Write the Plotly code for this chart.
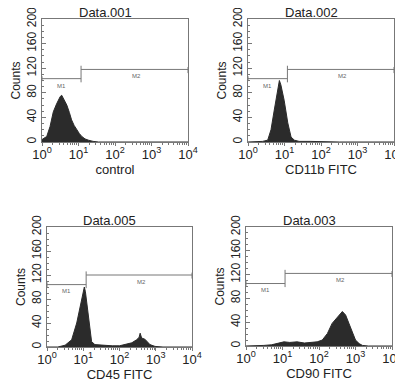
import plotly.graph_objects as go

# page body has an 8px default margin, so the figure is drawn 8px in from the window edge
OFF = 8
W, H = 403 - OFF, 383 - OFF

titles = ["Data.001", "Data.002", "Data.005", "Data.003"]
xlabels = ["control", "CD11b FITC", "CD45 FITC", "CD90 FITC"]

# histogram data: position in decades (log10 of intensity) and counts
p1_dec = [0.0, 0.05, 0.13, 0.22, 0.31, 0.40, 0.45, 0.50, 0.54, 0.60, 0.68, 0.75, 0.81, 0.88, 0.95, 1.02, 1.09, 1.18, 1.27, 1.40, 1.55, 4.0]
p1_cnt = [4, 6, 9, 25, 49, 62, 68, 74, 76, 70, 60, 48, 36, 27, 20, 14, 9, 5, 3, 1, 0, 0]

p2_dec = [0.0, 0.30, 0.40, 0.54, 0.63, 0.72, 0.81, 0.86, 0.90, 0.99, 1.09, 1.18, 1.27, 1.40, 1.70, 2.0, 2.5, 4.0]
p2_cnt = [0, 0, 1, 3, 20, 52, 85, 100, 93, 68, 31, 8, 3, 1, 1, 0.5, 0, 0]

p3_dec = [0.0, 0.30, 0.50, 0.68, 0.82, 0.91, 0.97, 1.03, 1.06, 1.09, 1.16, 1.23, 1.32, 1.50, 1.80, 2.0, 2.15, 2.34, 2.47, 2.54, 2.57, 2.61, 2.70, 2.78, 2.84, 2.98, 3.2, 4.0]
p3_cnt = [0, 0, 3, 12, 40, 67, 87, 100, 92, 78, 40, 9, 4, 3, 2, 2, 4, 7, 12, 16, 23, 15, 13, 8, 4, 1, 0, 0]

p4_dec = [0.0, 0.3, 0.49, 0.70, 0.86, 1.04, 1.2, 1.4, 1.6, 1.8, 1.95, 2.09, 2.23, 2.36, 2.50, 2.58, 2.64, 2.73, 2.82, 2.91, 3.00, 3.10, 3.19, 3.35, 4.0]
p4_cnt = [0, 0, 1, 2, 4, 7, 6, 7, 5, 6, 7, 10, 21, 38, 49, 55, 58, 52, 38, 21, 10, 4, 1, 0, 0]

# marker gates: M1 from 10^0 to split, M2 from split to 10^4
gate_split_dec = [1.07, 1.08, 1.08, 1.07]
m1_level = [103, 103, 104, 105]
m2_level = [118, 118, 120, 122]

y_ticks = [0, 40, 80, 120, 160, 200]
x_tick_dec = [0, 1, 2, 3, 4]

series = [(p1_dec, p1_cnt), (p2_dec, p2_cnt), (p3_dec, p3_cnt), (p4_dec, p4_cnt)]

# panel pixel boxes in window pixels (left, top, right, bottom)
boxes = [(42, 19, 188, 142), (248, 19, 394, 142), (47, 227, 192, 347), (246, 227, 392, 346)]

fig = go.Figure()
fill = "#2b2b2b"
axcol = "#777777"
font = "Arial, Liberation Sans, sans-serif"

minor_x = [m * 10 ** d for d in range(4) for m in range(2, 10)]

for i, ((dec, cnt), box) in enumerate(zip(series, boxes)):
    n = i + 1
    xa = "x" if n == 1 else f"x{n}"
    ya = "y" if n == 1 else f"y{n}"
    xs = [10 ** d for d in dec]
    fig.add_trace(go.Scatter(x=xs, y=cnt, mode="lines", fill="tozeroy",
                             line=dict(color=fill, width=1), fillcolor=fill,
                             xaxis=xa, yaxis=ya, hoverinfo="skip"))
    s = 10 ** gate_split_dec[i]
    a, b = m1_level[i], m2_level[i]
    gx = [1, s, None, s, 1e4, None, 1, 1, None, s, s, None, 1e4, 1e4]
    gy = [a, a, None, b, b, None, a - 4, a + 4, None, a - 6, b + 6, None, b - 6, b + 4]
    fig.add_trace(go.Scatter(x=gx, y=gy, mode="lines", line=dict(color="#777777", width=1),
                             xaxis=xa, yaxis=ya, hoverinfo="skip"))
    fig.add_annotation(x=(gate_split_dec[i]) / 2, y=a - 3, xref=xa, yref=ya, text="M1",
                       showarrow=False, xanchor="center", yanchor="top",
                       font=dict(size=6, color="#666", family=font))
    fig.add_annotation(x=2.6, y=b - 3, xref=xa, yref=ya, text="M2",
                       showarrow=False, xanchor="center", yanchor="top",
                       font=dict(size=6, color="#666", family=font))

    l, t, r, btm = box
    xd = [(l - OFF) / W, (r - OFF) / W]
    yd = [1 - (btm - OFF) / H, 1 - (t - OFF) / H]
    xkey = "xaxis" if n == 1 else f"xaxis{n}"
    ykey = "yaxis" if n == 1 else f"yaxis{n}"
    fig.update_layout(**{
        xkey: dict(domain=xd, type="log", range=[0, 4], anchor=ya, automargin=False,
                   tickvals=[10 ** d for d in x_tick_dec],
                   ticktext=[f"10<sup>{d}</sup>" for d in x_tick_dec],
                   tickfont=dict(size=13, color="#222", family=font),
                   ticks="outside", ticklen=3, tickcolor=axcol, ticklabelstandoff=-3,
                   ticklabeloverflow="allow",
                   minor=dict(tickvals=minor_x, ticks="outside", ticklen=2, tickcolor=axcol),
                   showline=True, linecolor=axcol, linewidth=1, mirror=True,
                   showgrid=False, zeroline=False,
                   title=dict(text=xlabels[i], font=dict(size=13, color="#222", family=font), standoff=0)),
        ykey: dict(domain=yd, range=[0, 200], anchor=xa, automargin=False,
                   tickvals=y_ticks, ticktext=[str(v) for v in y_ticks], tickangle=-90,
                   tickfont=dict(size=12, color="#222", family=font),
                   ticks="inside", ticklen=4, tickcolor=axcol, ticklabeloverflow="allow",
                   minor=dict(dtick=10, ticks="inside", ticklen=2, tickcolor=axcol),
                   showline=True, linecolor=axcol, linewidth=1, mirror=True,
                   showgrid=False, zeroline=False,
                   title=dict(text="Counts", font=dict(size=12, color="#222", family=font), standoff=2)),
    })
    fig.add_annotation(x=((l + r) / 2 - 10 - OFF) / W, y=1 - (t - 6 - OFF) / H,
                       xref="paper", yref="paper", xanchor="center", yanchor="middle",
                       text=titles[i], showarrow=False, font=dict(size=13, color="#222", family=font))

fig.update_layout(width=W, height=H, margin=dict(l=0, r=0, t=0, b=0, autoexpand=False),
                  paper_bgcolor="white", plot_bgcolor="white", showlegend=False)

fig.write_html("out.html")
